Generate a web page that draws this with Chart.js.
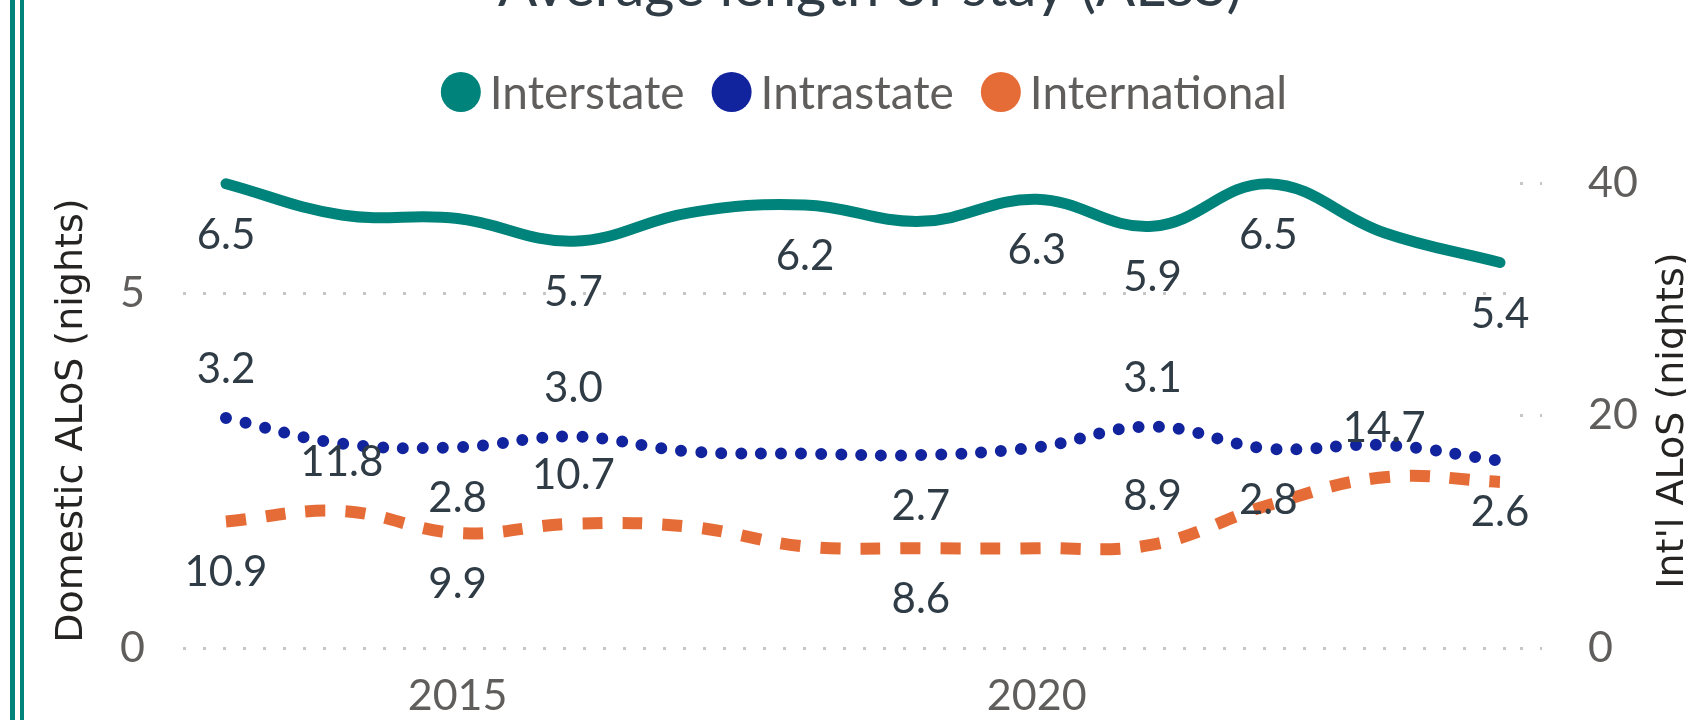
<!DOCTYPE html>
<html>
<head>
<meta charset="utf-8">
<script src="https://cdn.jsdelivr.net/npm/chart.js@4/dist/chart.umd.min.js"></script>
<style>
html,body{margin:0;padding:0;background:#fff;overflow:hidden}
canvas{display:block}
</style>
</head>
<body>
<canvas id="c" width="1686" height="720"></canvas>
<script>
// ---------- data ----------
const chartTitle = 'Average length of stay (ALoS)';
const leftAxisTitle = 'Domestic ALoS (nights)';
const rightAxisTitle = "Int'l ALoS (nights)";
const years = [2013, 2014, 2015, 2016, 2017, 2018, 2019, 2020, 2021, 2022, 2023, 2024];
const seriesNames = ['Interstate', 'Intrastate', 'International'];
const interstate    = [6.54, 6.10, 6.05, 5.73, 6.13, 6.24, 6.01, 6.32, 5.94, 6.54, 5.85, 5.43];
const intrastate    = [3.24, 2.88, 2.83, 2.98, 2.77, 2.74, 2.72, 2.83, 3.12, 2.81, 2.86, 2.64];
const international = [10.9, 11.8, 9.9, 10.7, 10.45, 8.75, 8.6, 8.6, 8.9, 12.3, 14.7, 14.3];
const xTicks = [2015, 2020];
const domesticTicks = [0, 5];
const intlTicks = [0, 20, 40];
// data label placement per point: 1 = above, -1 = below, 0 = not shown
const interstateLabels    = [-1, 0, 0, -1, 0, -1, 0, -1, -1, -1, 0, -1];
const intrastateLabels    = [1, 0, -1, 1, 0, 0, -1, 0, 1, -1, 0, -1];
const internationalLabels = [-1, 1, -1, 1, 0, 0, -1, 0, 1, 0, 1, 0];

// ---------- style ----------
const TEAL = '#00837A', BLUE = '#12239E', ORANGE = '#E66C37';
const colors = [TEAL, BLUE, ORANGE];
const LABEL_COLOR = '#2F3B45';
const TICK_COLOR = '#605E5C';
const GRID_COLOR = '#C8C6C4';
const SEG = 'Lato, "Open Sans", sans-serif';

const toPoints = vals => years.map((yr, i) => ({x: yr, y: vals[i]}));
const labelPlan = [interstateLabels, intrastateLabels, internationalLabels];
const seriesValues = [interstate, intrastate, international];

const overlay = {
  id: 'overlay',
  beforeDraw(chart) {
    const ctx = chart.ctx;
    ctx.save();
    ctx.fillStyle = '#fff';
    ctx.fillRect(0, 0, chart.width, chart.height);
    // double frame line on the left
    ctx.fillStyle = TEAL;
    ctx.fillRect(10, 0, 5, chart.height);
    ctx.fillRect(20, 0, 4, chart.height);
    // title (top clipped as in reference)
    ctx.font = '58px ' + SEG;
    ctx.fillStyle = LABEL_COLOR;
    ctx.textAlign = 'center';
    ctx.textBaseline = 'alphabetic';
    ctx.fillText(chartTitle, 870, 6);
    // legend
    ctx.font = '46px ' + SEG;
    const d = 40, gapText = 9, gapItem = 27;
    const widths = seriesNames.map(n => ctx.measureText(n).width);
    const total = widths.reduce((a, w) => a + d + gapText + w, 0) + gapItem * (seriesNames.length - 1);
    let x = 864 - total / 2;
    ctx.textAlign = 'left';
    seriesNames.forEach((n, i) => {
      ctx.fillStyle = colors[i];
      ctx.beginPath();
      ctx.arc(x + d / 2, 92, d / 2, 0, Math.PI * 2);
      ctx.fill();
      ctx.fillStyle = TICK_COLOR;
      ctx.fillText(n, x + d + gapText, 109);
      x += d + gapText + widths[i] + gapItem;
    });
    // axis titles
    ctx.font = '38px "DejaVu Sans", sans-serif';
    ctx.fillStyle = '#252423';
    ctx.textAlign = 'center';
    const midY = (chart.chartArea.top + chart.chartArea.bottom) / 2;
    ctx.save();
    ctx.translate(82, midY + 5);
    ctx.rotate(-Math.PI / 2);
    ctx.fillText(leftAxisTitle, 0, 0);
    ctx.restore();
    ctx.save();
    ctx.translate(1683, midY + 5);
    ctx.rotate(-Math.PI / 2);
    ctx.fillText(rightAxisTitle, 0, 0);
    ctx.restore();
    ctx.restore();
  },
  afterDatasetsDraw(chart) {
    const ctx = chart.ctx;
    ctx.save();
    ctx.font = '42px ' + SEG;
    ctx.fillStyle = LABEL_COLOR;
    ctx.textAlign = 'center';
    ctx.textBaseline = 'middle';
    labelPlan.forEach((plan, di) => {
      const meta = chart.getDatasetMeta(di);
      plan.forEach((side, j) => {
        if (!side) return;
        const el = meta.data[j];
        ctx.fillText(seriesValues[di][j].toFixed(1), el.x, el.y - side * 50 + 1.5);
      });
    });
    ctx.restore();
  }
};

const tickFont = {family: SEG, size: 43};

new Chart(document.getElementById('c'), {
  type: 'line',
  data: {
    datasets: [
      {label: seriesNames[0], data: toPoints(interstate), yAxisID: 'y',
       borderColor: TEAL, borderWidth: 11, borderCapStyle: 'round', borderJoinStyle: 'round',
       tension: 0.4, pointRadius: 0, clip: false},
      {label: seriesNames[1], data: toPoints(intrastate), yAxisID: 'y',
       borderColor: BLUE, borderWidth: 12, borderDash: [0, 20], borderCapStyle: 'round',
       tension: 0.4, pointRadius: 0, clip: false},
      {label: seriesNames[2], data: toPoints(international), yAxisID: 'y2',
       borderColor: ORANGE, borderWidth: 12, borderDash: [20, 20], borderCapStyle: 'butt',
       tension: 0.4, pointRadius: 0, clip: false}
    ]
  },
  options: {
    responsive: false,
    animation: false,
    devicePixelRatio: 1,
    events: [],
    layout: {padding: {top: 183, left: 0, right: 0, bottom: 0}},
    plugins: {legend: {display: false}, title: {display: false}, tooltip: {enabled: false}},
    scales: {
      x: {
        type: 'linear', min: 2012.629, max: 2024.173,
        grid: {display: false, drawTicks: false},
        border: {display: false},
        afterBuildTicks: s => { s.ticks = xTicks.map(v => ({value: v})); },
        ticks: {font: tickFont, color: TICK_COLOR, padding: 22, maxRotation: 0, autoSkip: false,
                callback: v => String(v)},
        afterFit: s => { s.height = 68; }
      },
      y: {
        position: 'left', min: 0, max: 6.55,
        grid: {color: GRID_COLOR, lineWidth: 3, drawTicks: false},
        border: {display: false, dash: [3, 17]},
        afterBuildTicks: s => { s.ticks = domesticTicks.map(v => ({value: v})); },
        ticks: {font: tickFont, color: TICK_COLOR, padding: 38, callback: v => String(v)},
        afterFit: s => { s.width = 183; }
      },
      y2: {
        position: 'right', min: 0, max: 40,
        grid: {drawOnChartArea: false, drawTicks: true, tickLength: 22, tickColor: GRID_COLOR,
               tickWidth: 3, tickBorderDash: [3, 17]},
        border: {display: false},
        afterBuildTicks: s => { s.ticks = intlTicks.map(v => ({value: v})); },
        ticks: {font: tickFont, color: TICK_COLOR, padding: 46, callback: v => String(v)},
        afterFit: s => { s.width = 166; }
      }
    }
  },
  plugins: [overlay]
});
</script>
</body>
</html>
